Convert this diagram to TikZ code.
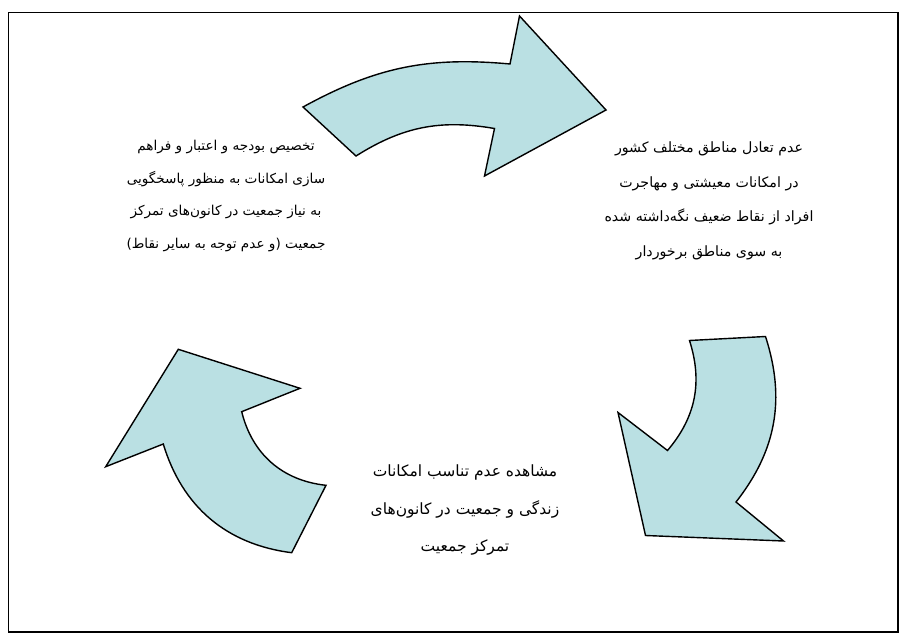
\documentclass[tikz,border=0pt]{standalone}
\usepackage{fontspec}
\newfontfamily\arabicfont[Script=Arabic]{DejaVu Sans}
\TeXXeTstate=1
\definecolor{arrow_fill}{HTML}{BAE0E3}

\begin{document}
\begin{tikzpicture}[x=1pt,y=-1pt,
    blockarrow/.style={draw=black,line width=1.4pt,fill=arrow_fill,line join=miter},
    caption/.style={align=center,inner sep=0pt,font=\arabicfont\fontsize{14.2}{34.5}\selectfont}]
    \useasboundingbox (0,0) rectangle (910,639);
    \draw[line width=1.2pt] (8.5,12.5) rectangle (898,632);
    \draw[blockarrow] (303,107) to[bend left=17] (510,64) -- (519.5,16) -- (606,110) -- (484.5,176) -- (494.5,128.5) to[bend right=21] (356,156) -- cycle;
    \draw[blockarrow] (689.5,340.5) -- (765.5,336.5) to[bend left=28] (736,502) -- (783.5,541) -- (645.5,535.5) -- (618,412.5) -- (667.5,450.5) to[bend right=29] cycle;
    \draw[blockarrow] (291.7,552.7) -- (326,485.3) to[bend left=35] (241.7,411.7) -- (300,388.3) -- (178.3,349.3) -- (105.7,466.7) -- (163.3,444) to[bend right=33] cycle;
    \node[caption] (imbalance) at (709,201) {\beginR عدم تعادل مناطق مختلف کشور\endR\\\beginR در امکانات معیشتی و مهاجرت\endR\\\beginR افراد از نقاط ضعیف نگه‌داشته شده\endR\\\beginR به سوی مناطق برخوردار\endR};
    \node[caption,font=\arabicfont\fontsize{13.6}{32.7}\selectfont] (budget) at (226,196) {\beginR تخصیص بودجه و اعتبار و فراهم\endR\\\beginR سازی امکانات به منظور پاسخگویی\endR\\\beginR به نیاز جمعیت در کانون‌های تمرکز\endR\\\beginR جمعیت (و عدم توجه به سایر نقاط)\endR};
    \node[caption,font=\arabicfont\fontsize{15.5}{37.5}\selectfont] (mismatch) at (465,510) {\beginR مشاهده عدم تناسب امکانات\endR\\\beginR زندگی و جمعیت در کانون‌های\endR\\\beginR تمرکز جمعیت\endR};
\end{tikzpicture}
\end{document}
